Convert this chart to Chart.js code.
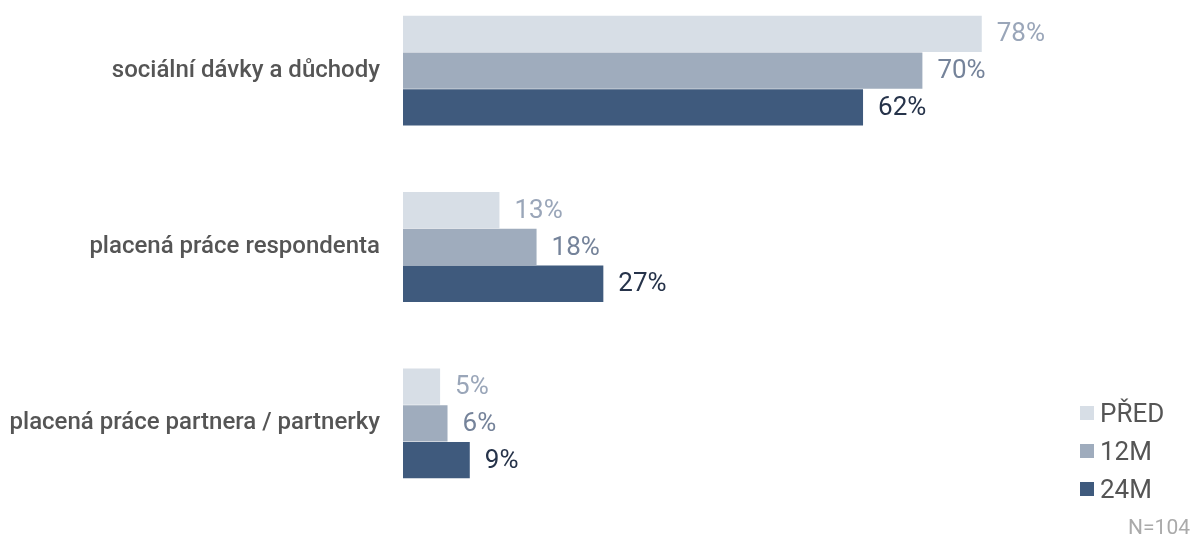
<!DOCTYPE html>
<html>
<head>
<meta charset="utf-8">
<script src="https://cdn.jsdelivr.net/npm/chart.js@4/dist/chart.umd.min.js"></script>
<style>
  html, body { margin: 0; padding: 0; background: #fff; overflow: hidden; }
  #wrap { position: absolute; left: 0; top: -55px; width: 1192px; height: 604px; }
  #legend { position: absolute; left: 1080px; top: 394px; font-family: Roboto, sans-serif; font-size: 26px; color: #555; }
  #legend div { height: 38px; display: flex; align-items: center; }
  #legend span.sw { display: inline-block; width: 14px; height: 14px; margin-right: 6px; }
  #note { position: absolute; right: 2px; top: 515px; font-family: Roboto, sans-serif; font-size: 21px; color: #aaa; }
</style>
</head>
<body>
<div id="wrap"><canvas id="myChart"></canvas></div>
<div id="legend"></div>
<div id="note">N=104</div>
<script>
const categories = ['sociální dávky a důchody', 'placená práce respondenta', 'placená práce partnera / partnerky'];
const seriesNames = ['PŘED', '12M', '24M'];
const predValues = [78, 13, 5];
const m12Values = [70, 18, 6];
const m24Values = [62, 27, 9];

const barColors = ['#d7dee6', '#9facbd', '#3f5a7d'];
const labelColors = ['#9aa6b9', '#75839a', '#26334a'];

// value labels to the right of each bar
const valueLabels = {
    id: 'valueLabels',
    afterDatasetsDraw(chart) {
        const ctx = chart.ctx;
        ctx.save();
        ctx.font = '400 26px Roboto, sans-serif';
        ctx.textAlign = 'left';
        ctx.textBaseline = 'middle';
        chart.data.datasets.forEach(function(ds, i) {
            const meta = chart.getDatasetMeta(i);
            ctx.fillStyle = labelColors[i];
            meta.data.forEach(function(bar, j) {
                ctx.fillText(ds.data[j] + '%', bar.x + 15, bar.y + 1);
            });
        });
        ctx.restore();
    }
};

const datasets = [predValues, m12Values, m24Values].map(function(vals, i) {
    return {
        label: seriesNames[i],
        data: vals,
        backgroundColor: barColors[i],
        borderWidth: 0,
        barPercentage: 0.99,
        categoryPercentage: 0.625
    };
});

new Chart(document.getElementById('myChart'), {
    type: 'bar',
    data: { labels: categories, datasets: datasets },
    options: {
        indexAxis: 'y',
        responsive: true,
        maintainAspectRatio: false,
        animation: false,
        layout: { padding: { left: 0, right: 47, top: 0, bottom: 0 } },
        plugins: { legend: { display: false }, tooltip: { enabled: false } },
        scales: {
            x: { display: false, min: 0, max: 100 },
            y: {
                grid: { display: false, drawTicks: false },
                border: { display: false },
                ticks: {
                    color: '#555',
                    padding: 23,
                    font: { family: 'Roboto, sans-serif', size: 24, weight: '500' }
                },
                afterFit: function(scale) { scale.width = 403; }
            }
        }
    },
    plugins: [valueLabels]
});

// legend in the lower right corner
const legend = document.getElementById('legend');
seriesNames.forEach(function(name, i) {
    const row = document.createElement('div');
    row.innerHTML = '<span class="sw" style="background:' + barColors[i] + '"></span>' + name;
    legend.appendChild(row);
});
</script>
</body>
</html>
